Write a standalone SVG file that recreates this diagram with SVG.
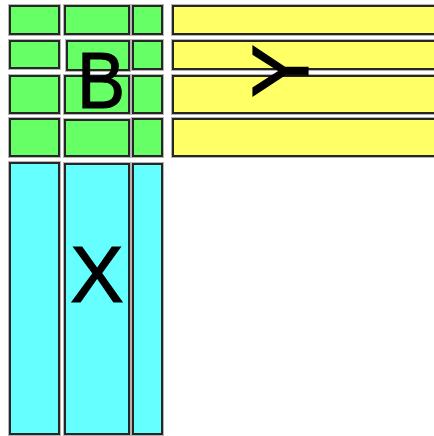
<svg xmlns="http://www.w3.org/2000/svg" width="434" height="436" viewBox="0 0 434 436">
  <style>
    .halo { fill: none; stroke: #b4b4b4; stroke-width: 4; }
    .cell { stroke: #262626; stroke-width: 2; }
    .g { fill: #66ff66; }
    .y { fill: #ffff66; }
    .c { fill: #66ffff; }
    .lbl { font-family: "Liberation Sans", Arial, sans-serif; font-size: 80px; fill: #000; stroke: #000; stroke-width: 1.2; text-anchor: middle; }
  </style>
  <rect width="434" height="436" fill="#ffffff"/>

  <!-- B block: 4 x 3 grid of green cells -->
  <g id="B">
    <g id="b-r1">
      <rect class="halo" x="10" y="6" width="49" height="28"/><rect class="cell g" x="10" y="6" width="49" height="28"/>
      <rect class="halo" x="65" y="6" width="64" height="28"/><rect class="cell g" x="65" y="6" width="64" height="28"/>
      <rect class="halo" x="133" y="6" width="29" height="28"/><rect class="cell g" x="133" y="6" width="29" height="28"/>
    </g>
    <g id="b-r2">
      <rect class="halo" x="10" y="41" width="49" height="27"/><rect class="cell g" x="10" y="41" width="49" height="27"/>
      <rect class="halo" x="67" y="41" width="62" height="29"/><rect class="cell g" x="67" y="41" width="62" height="29"/>
      <rect class="halo" x="133" y="41" width="29" height="28"/><rect class="cell g" x="133" y="41" width="29" height="28"/>
    </g>
    <g id="b-r3">
      <rect class="halo" x="10" y="76" width="49" height="37"/><rect class="cell g" x="10" y="76" width="49" height="37"/>
      <rect class="halo" x="65" y="76" width="64" height="37"/><rect class="cell g" x="65" y="76" width="64" height="37"/>
      <rect class="halo" x="133" y="76" width="29" height="37"/><rect class="cell g" x="133" y="76" width="29" height="37"/>
    </g>
    <g id="b-r4">
      <rect class="halo" x="10" y="119" width="49" height="37"/><rect class="cell g" x="10" y="119" width="49" height="37"/>
      <rect class="halo" x="65" y="120" width="64" height="36"/><rect class="cell g" x="65" y="120" width="64" height="36"/>
      <rect class="halo" x="133" y="119" width="29" height="37"/><rect class="cell g" x="133" y="119" width="29" height="37"/>
    </g>
    <text class="lbl" transform="translate(101,108) scale(0.9,1)" x="0" y="0">B</text>
  </g>

  <!-- Y block: four yellow rows running to the right edge -->
  <g id="Y">
    <rect class="halo" x="173" y="6" width="270" height="28"/><rect class="cell y" x="173" y="6" width="270" height="28"/>
    <rect class="halo" x="173" y="41" width="270" height="28"/><rect class="cell y" x="173" y="41" width="270" height="28"/>
    <rect class="halo" x="173" y="76" width="270" height="37"/><rect class="cell y" x="173" y="76" width="270" height="37"/>
    <rect class="halo" x="173" y="119" width="270" height="37"/><rect class="cell y" x="173" y="119" width="270" height="37"/>
    <text class="lbl" transform="translate(308,71) rotate(-90)" x="0" y="0">Y</text>
  </g>

  <!-- X block: three cyan columns -->
  <g id="X">
    <rect class="halo" x="10" y="163" width="49" height="271"/><rect class="cell c" x="10" y="163" width="49" height="271"/>
    <rect class="halo" x="65" y="164" width="64" height="270"/><rect class="cell c" x="65" y="164" width="64" height="270"/>
    <rect class="halo" x="133" y="164" width="29" height="270"/><rect class="cell c" x="133" y="164" width="29" height="270"/>
    <text class="lbl" x="97" y="302">X</text>
  </g>

  <g id="connectors"/>
</svg>
